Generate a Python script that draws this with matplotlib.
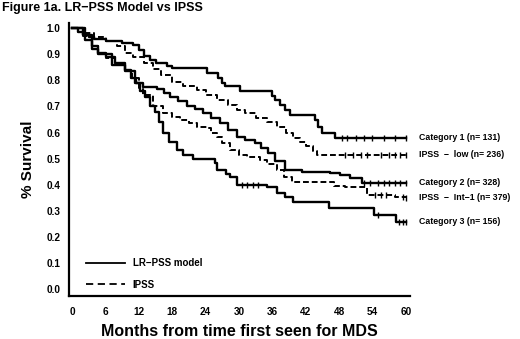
import numpy as np
import matplotlib
matplotlib.use('Agg')
import matplotlib.pyplot as plt

plt.rcParams['font.family'] = ['Liberation Sans', 'DejaVu Sans']

# Kaplan-Meier step data (months, survival after step)
cat1_t = [0, 1, 2, 3, 4, 6, 9, 11, 12, 13, 14, 15, 17, 18, 24.2, 26.2, 26.9, 27.5,
          30.2, 36.0, 36.4, 37.3, 38.2, 39.1, 43.6, 44.2, 45, 47.2, 60]
cat1_s = [1.0, 0.985, 0.975, 0.965, 0.958, 0.952, 0.942, 0.935, 0.915, 0.895, 0.88,
          0.867, 0.857, 0.848, 0.83, 0.81, 0.79, 0.78, 0.76, 0.74, 0.725, 0.705,
          0.687, 0.667, 0.648, 0.62, 0.60, 0.58, 0.58]

low_t = [0, 2, 4, 6, 8, 9.5, 11, 13, 14.5, 16, 18, 20, 22.4, 24, 26, 28, 29.6, 31,
         33, 35, 36.8, 38.5, 39.7, 41, 42, 43.3, 44, 60]
low_s = [1.0, 0.98, 0.965, 0.95, 0.93, 0.905, 0.89, 0.865, 0.845, 0.82, 0.795, 0.78,
         0.763, 0.745, 0.725, 0.705, 0.687, 0.675, 0.655, 0.64, 0.62, 0.60, 0.58,
         0.565, 0.55, 0.53, 0.515, 0.515]

cat2_t = [0, 2, 3.6, 4.7, 6, 7.7, 9.5, 10.5, 11.5, 12.8, 15.3, 16.5, 17.6, 19, 20.6,
          22, 23.5, 25, 26.6, 28, 29.6, 31, 32.8, 34, 35.2, 36.5, 38.2, 41.3, 46.3,
          48.1, 50, 52.2, 60]
cat2_s = [1.0, 0.975, 0.93, 0.905, 0.89, 0.866, 0.84, 0.81, 0.79, 0.775, 0.768, 0.75,
          0.737, 0.72, 0.70, 0.69, 0.675, 0.655, 0.636, 0.61, 0.584, 0.57, 0.56,
          0.54, 0.52, 0.49, 0.457, 0.45, 0.445, 0.437, 0.425, 0.407, 0.407]

int1_t = [0, 2, 3.6, 4.7, 6, 7.7, 9.5, 10.8, 12, 12.8, 14.5, 16.3, 18, 19.4, 21, 22.4,
          24.2, 25, 26, 27, 28.4, 30, 31.4, 33.8, 35, 36.8, 38, 39.5, 44, 47, 49, 53,
          58, 60]
int1_s = [1.0, 0.97, 0.93, 0.905, 0.885, 0.86, 0.835, 0.81, 0.77, 0.745, 0.70, 0.675,
          0.66, 0.65, 0.635, 0.62, 0.617, 0.60, 0.584, 0.56, 0.534, 0.515, 0.507,
          0.495, 0.48, 0.457, 0.43, 0.41, 0.41, 0.395, 0.39, 0.36, 0.354, 0.35]

cat3_t = [0, 2.3, 3.6, 4.7, 7.2, 9.5, 11.3, 12.2, 13.1, 14, 14.9, 15.6, 16.3, 17.5,
          18.9, 20, 21.7, 25.7, 26, 27.7, 28.4, 29.6, 35, 36.8, 38.2, 39.7, 46.2,
          54.2, 58.3, 60]
cat3_s = [1.0, 0.955, 0.92, 0.90, 0.86, 0.835, 0.79, 0.76, 0.737, 0.70, 0.68, 0.64,
          0.60, 0.565, 0.534, 0.515, 0.50, 0.484, 0.455, 0.44, 0.43, 0.40, 0.39,
          0.368, 0.352, 0.335, 0.31, 0.285, 0.258, 0.258]

# censoring tick times
cat1_c = [48.5, 49.5, 51, 52.5, 54, 56, 58, 60]
low_c = [49, 50.5, 52, 53, 55.5, 57, 58, 59, 60]
cat2_c = [52.5, 53.5, 55, 56, 57, 58, 59, 60]
int1_c = [54.5, 55.5, 56.5, 59.5, 60]
cat3_c = [30.5, 31.5, 32.5, 33.5, 55, 58.8, 59.5, 60]

labels = ['Category 1 (n= 131)', 'IPSS  \u2212  low (n= 236)', 'Category 2 (n= 328)',
          'IPSS  \u2212  Int\u22121 (n= 379)', 'Category 3 (n= 156)']
xticks = [0, 6, 12, 18, 24, 30, 36, 42, 48, 54, 60]
yticks = [0.0, 0.1, 0.2, 0.3, 0.4, 0.5, 0.6, 0.7, 0.8, 0.9, 1.0]

fig = plt.figure(figsize=(5.2, 3.39), dpi=100)
ax = fig.add_axes([0.132, 0.128, 0.656, 0.805])

curves = [(cat1_t, cat1_s, cat1_c, '-'), (low_t, low_s, low_c, '--'),
          (cat2_t, cat2_s, cat2_c, '-'), (int1_t, int1_s, int1_c, '--'),
          (cat3_t, cat3_s, cat3_c, '-')]

for (t, s, c, ls), lab in zip(curves, labels):
    t = np.array(t)
    s = np.array(s)
    if ls == '-':
        ax.step(t, s, where='post', color='black', lw=1.7)
    else:
        ax.step(t, s, where='post', color='black', lw=1.4, linestyle=(0, (3, 1.5)))
    idx = np.searchsorted(t, c, side='right') - 1
    ax.plot(c, s[np.clip(idx, 0, len(s) - 1)], '|', color='black', ms=4, mew=1)
    ax.annotate(lab, xy=(1.0, s[-1]), xycoords=('axes fraction', 'data'),
                xytext=(7, 0), textcoords='offset points', va='center', ha='left',
                fontsize=6.3, fontweight='bold', annotation_clip=False)

# legend lines
ax.plot([], [], color='black', lw=1.3, label='LR\u2212PSS model')
ax.plot([], [], color='black', lw=1.3, linestyle=(0, (4, 2.5)), label='IPSS')
leg = ax.legend(loc='lower left', bbox_to_anchor=(0.025, -0.01), frameon=False,
                prop={'size': 7, 'weight': 'bold'}, handlelength=4, labelspacing=1.2)

ax.set_xlim(-0.63, 60.7)
ax.set_ylim(-0.0245, 1.021)
ax.set_xticks(xticks)
ax.set_yticks(yticks)
ax.set_yticklabels([f'{v:.1f}' for v in yticks])
ax.tick_params(length=0, labelsize=7.2)
ax.tick_params(axis='x', pad=8)
ax.tick_params(axis='y', pad=6)
for lbl in ax.get_xticklabels() + ax.get_yticklabels():
    lbl.set_fontweight('bold')
ax.spines['top'].set_visible(False)
ax.spines['right'].set_visible(False)
ax.spines['left'].set_linewidth(1.6)
ax.spines['bottom'].set_linewidth(1.6)

ax.set_xlabel('Months from time first seen for MDS', fontsize=11.5, fontweight='bold',
              labelpad=5)
ax.set_ylabel('% Survival', fontsize=11, fontweight='bold', labelpad=8)
fig.text(0.004, 0.975, 'Figure 1a. LR\u2212PSS Model vs IPSS', fontsize=9,
         fontweight='bold', va='center', ha='left')

fig.savefig('out.png', dpi=100)
